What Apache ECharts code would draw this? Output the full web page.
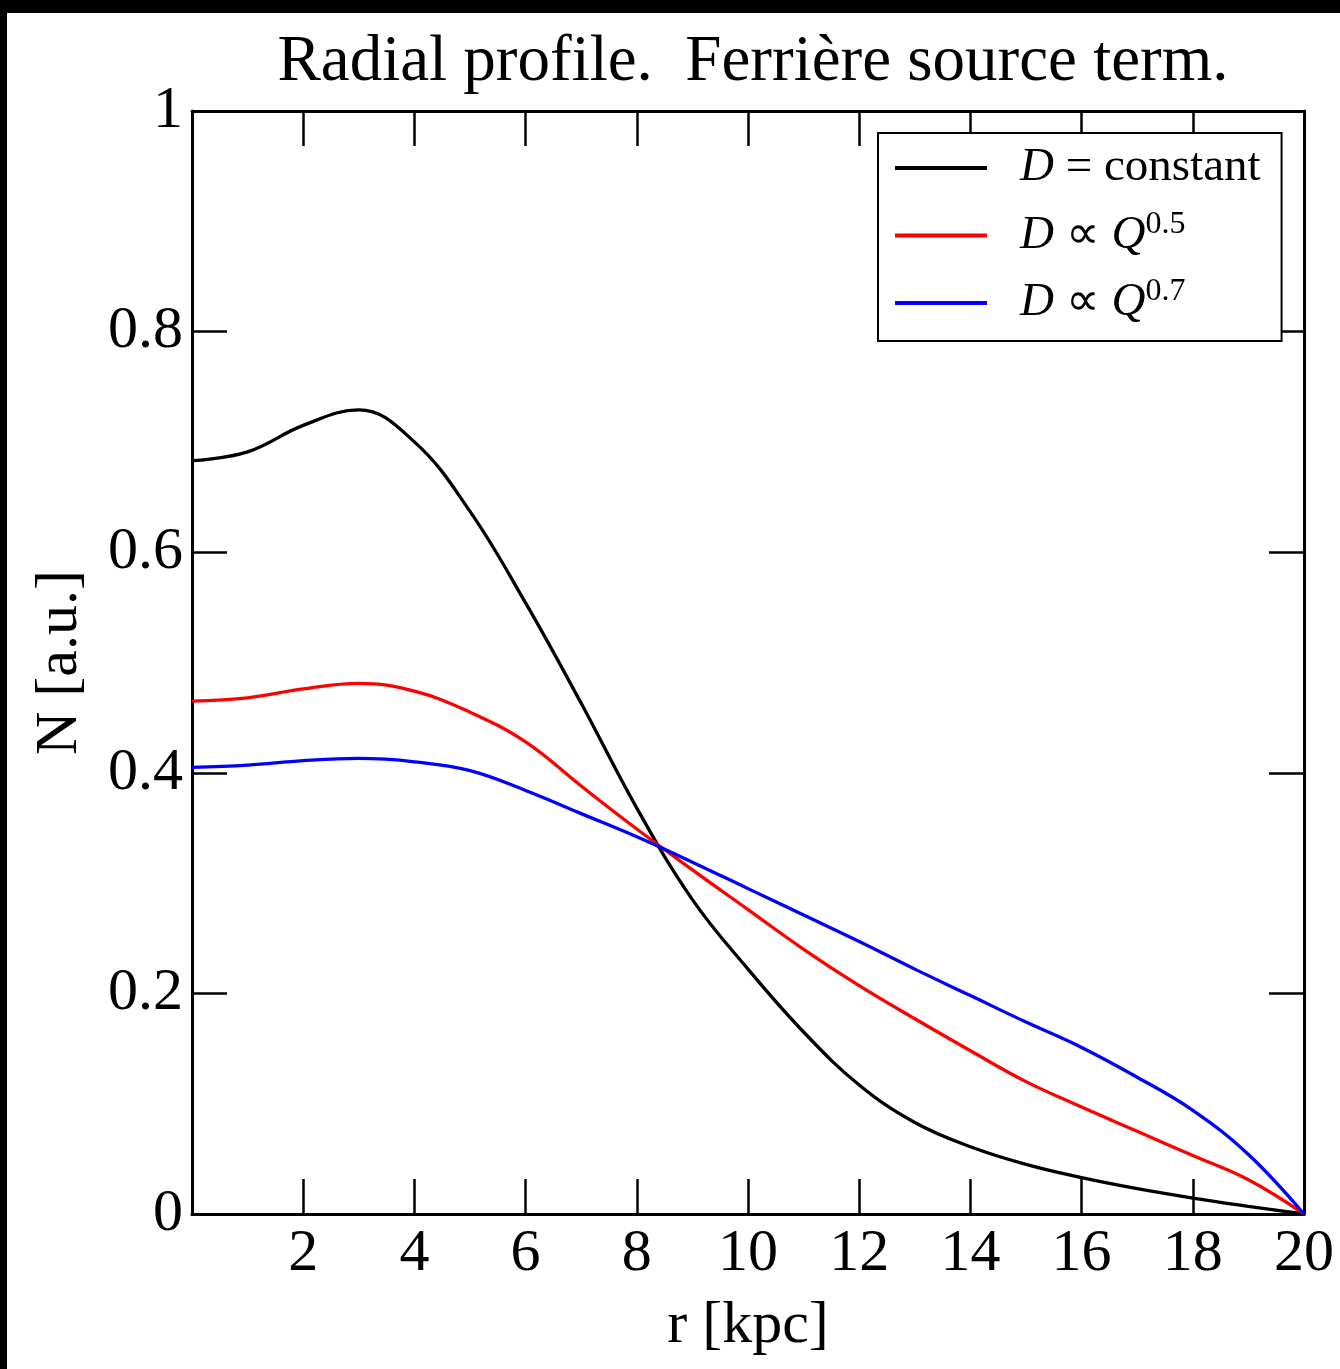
<!DOCTYPE html>
<html>
<head>
<meta charset="utf-8">
<script src="https://cdn.jsdelivr.net/npm/echarts@6/dist/echarts.min.js"></script>
<style>
html,body{margin:0;padding:0;background:#000;width:1340px;height:1369px;overflow:hidden;}
#chart{position:absolute;left:7px;top:13px;width:1333px;height:1356px;background:#fff;}
</style>
</head>
<body>
<div id="chart"></div>
<script>
const radius = [0,1,2,3,4,5,6,7,8,9,10,11,12,13,14,15,16,17,18,19,20];
const dConstant = [0.683,0.691,0.715,0.729,0.700,0.637,0.554,0.463,0.368,0.285,0.222,0.165,0.117,0.083,0.061,0.045,0.033,0.023,0.0145,0.007,0];
const dQ05 = [0.465,0.468,0.476,0.481,0.474,0.455,0.428,0.388,0.349,0.312,0.276,0.240,0.207,0.177,0.148,0.120,0.097,0.075,0.053,0.031,0];
const dQ07 = [0.405,0.407,0.411,0.413,0.410,0.402,0.384,0.363,0.342,0.319,0.295,0.271,0.247,0.222,0.198,0.174,0.151,0.124,0.094,0.054,0];
const xTicks = [0,2,4,6,8,10,12,14,16,18,20];
const yTicks = [0,0.2,0.4,0.6,0.8,1];
const titleText = 'Radial profile.  Ferrière source term.';
const xName = 'r [kpc]';
const yName = 'N [a.u.]';
const seriesNames = ['D = constant','D ∝ Q^0.5','D ∝ Q^0.7'];

const FONT = 'Liberation Serif';
const pair = arr => radius.map((r,i)=>[r,arr[i]]);
const chart = echarts.init(document.getElementById('chart'), null, {renderer:'canvas'});

const gridL = 185, gridT = 98, gridW = 1112, gridH = 1103;
const frameW = 3;
const tickStyle = {show:true, inside:true, length:35, lineStyle:{color:'#000', width:2.5}};

const legendRich = {
  i:{fontFamily:FONT, fontStyle:'italic', fontSize:47, color:'#000'},
  n:{fontFamily:FONT, fontSize:47, color:'#000'},
  s:{fontFamily:FONT, fontSize:32, color:'#000', verticalAlign:'top', padding:[0,0,18,0]}
};
function legendFmt(name){
  if (name === seriesNames[0]) return '{i|D} {n|= constant}';
  if (name === seriesNames[1]) return '{i|D} {n|∝} {i|Q}{s|0.5}';
  return '{i|D} {n|∝} {i|Q}{s|0.7}';
}

const option = {
  animation:false,
  backgroundColor:'#fff',
  title:{
    text:titleText, left:gridL+gridW/2, top:12, textAlign:'center',
    textStyle:{fontFamily:FONT, fontSize:65, fontWeight:'normal', color:'#000'}
  },
  grid:{left:gridL, top:gridT, width:gridW, height:gridH, containLabel:false, outerBoundsMode:'none'},
  legend:{
    orient:'vertical', left:871, top:120,
    padding:[8,21,11,17], itemGap:13.5,
    backgroundColor:'#fff', borderColor:'#000', borderWidth:2,
    icon:'rect', itemWidth:92, itemHeight:4,
    textStyle:{fontFamily:FONT, fontSize:47, color:'#000', padding:[0,0,0,28], rich:legendRich, lineHeight:54},
    formatter:legendFmt,
    data:seriesNames
  },
  xAxis:[
    {type:'value', min:0, max:20, interval:2, position:'bottom',
     axisLine:{show:true, onZero:false, lineStyle:{color:'#000', width:frameW}},
     axisTick:tickStyle, splitLine:{show:false},
     axisLabel:{fontFamily:FONT, fontSize:60, color:'#000', margin:10,
       formatter:v=> (v===0 ? '' : String(v))},
     name:xName, nameLocation:'middle', nameGap:82,
     nameTextStyle:{fontFamily:FONT, fontSize:60, color:'#000'}},
    {type:'value', min:0, max:20, interval:2, position:'top',
     axisLine:{show:true, onZero:false, lineStyle:{color:'#000', width:frameW}},
     axisTick:tickStyle, splitLine:{show:false}, axisLabel:{show:false}}
  ],
  yAxis:[
    {type:'value', min:0, max:1, interval:0.2, position:'left',
     axisLine:{show:true, onZero:false, lineStyle:{color:'#000', width:frameW}},
     axisTick:tickStyle, splitLine:{show:false},
     axisLabel:{fontFamily:FONT, fontSize:60, color:'#000', margin:9,
       formatter:v=> (v===0?'0':(v===1?'1':v.toFixed(1)))},
     name:yName, nameLocation:'middle', nameGap:102, nameRotate:90,
     nameTextStyle:{fontFamily:FONT, fontSize:60, color:'#000'}},
    {type:'value', min:0, max:1, interval:0.2, position:'right',
     axisLine:{show:true, onZero:false, lineStyle:{color:'#000', width:frameW}},
     axisTick:tickStyle, splitLine:{show:false}, axisLabel:{show:false}}
  ],
  series:[
    {name:seriesNames[0], type:'line', data:pair(dConstant), symbol:'none', smooth:0.4,
     lineStyle:{color:'#000', width:3.3}, itemStyle:{color:'#000'}, z:3},
    {name:seriesNames[1], type:'line', data:pair(dQ05), symbol:'none', smooth:0.4,
     lineStyle:{color:'#ff0000', width:3.3}, itemStyle:{color:'#ff0000'}, z:3},
    {name:seriesNames[2], type:'line', data:pair(dQ07), symbol:'none', smooth:0.4,
     lineStyle:{color:'#0000ff', width:3.3}, itemStyle:{color:'#0000ff'}, z:3}
  ]
};
chart.setOption(option);
</script>
</body>
</html>
